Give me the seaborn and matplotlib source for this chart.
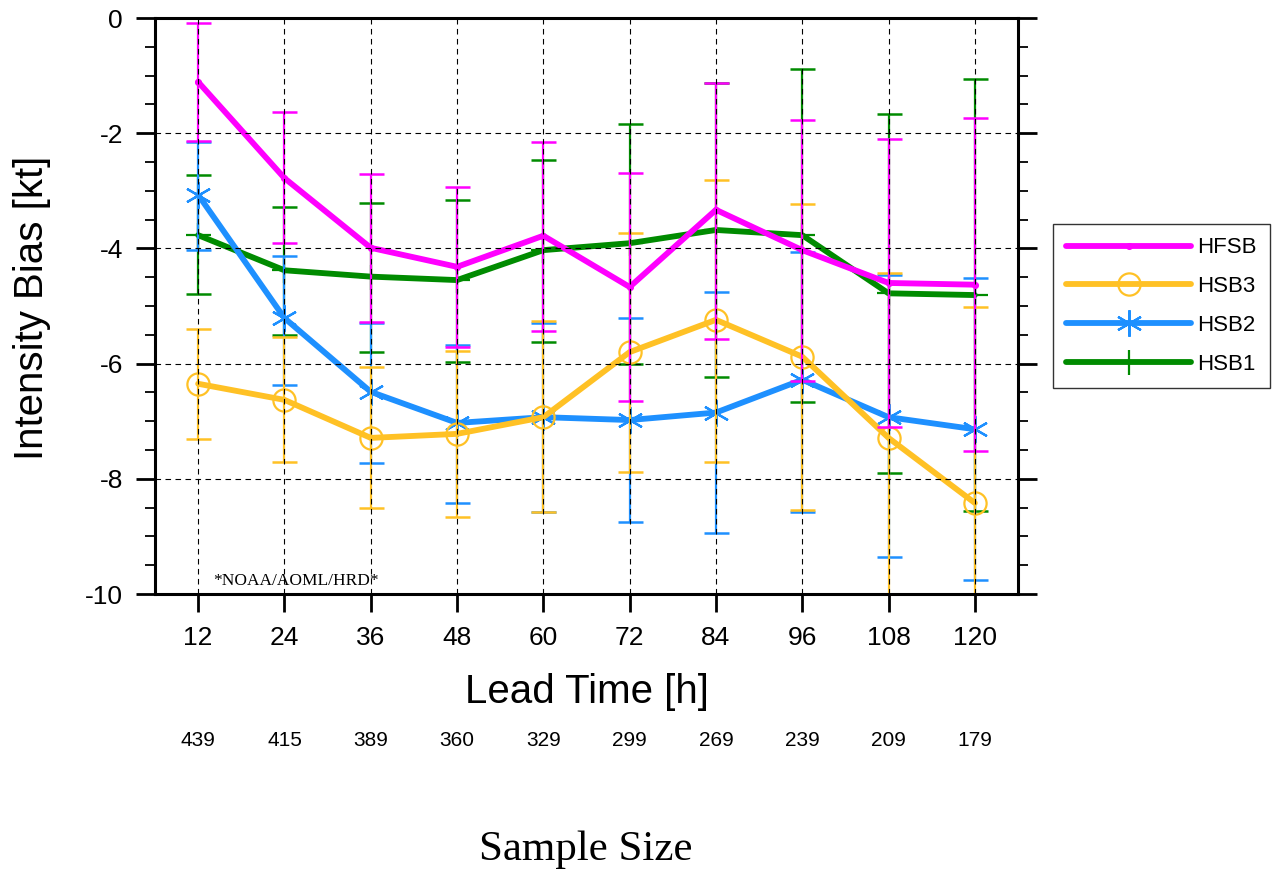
import seaborn as sns
import matplotlib.pyplot as plt
import matplotlib.transforms as mtransforms
from matplotlib.lines import Line2D
from matplotlib.ticker import MultipleLocator

# values
lead_time = [12, 24, 36, 48, 60, 72, 84, 96, 108, 120]
sample_size = [439, 415, 389, 360, 329, 299, 269, 239, 209, 179]

hfsb_mean = [-1.11, -2.78, -3.99, -4.32, -3.78, -4.67, -3.33, -4.03, -4.60, -4.63]
hfsb_hi = [-0.08, -1.64, -2.71, -2.94, -2.15, -2.69, -1.12, -1.77, -2.10, -1.74]
hfsb_lo = [-2.14, -3.91, -5.28, -5.71, -5.43, -6.65, -5.57, -6.31, -7.10, -7.52]

hsb3_mean = [-6.35, -6.63, -7.29, -7.22, -6.93, -5.80, -5.24, -5.88, -7.29, -8.42]
hsb3_hi = [-5.40, -5.53, -6.06, -5.78, -5.26, -3.74, -2.81, -3.23, -4.43, -5.01]
hsb3_lo = [-7.31, -7.70, -8.50, -8.66, -8.58, -7.88, -7.71, -8.54, -10.2, -10.4]

hsb2_mean = [-3.07, -5.21, -6.49, -7.03, -6.93, -6.98, -6.85, -6.28, -6.93, -7.14]
hsb2_hi = [-2.15, -4.13, -5.30, -5.68, -5.30, -5.20, -4.75, -4.07, -4.46, -4.51]
hsb2_lo = [-4.03, -6.37, -7.72, -8.42, -8.58, -8.75, -8.94, -8.58, -9.35, -9.76]

hsb1_mean = [-3.77, -4.38, -4.49, -4.55, -4.03, -3.91, -3.68, -3.77, -4.78, -4.81]
hsb1_hi = [-2.73, -3.28, -3.21, -3.16, -2.47, -1.84, -1.12, -0.89, -1.67, -1.06]
hsb1_lo = [-4.79, -5.50, -5.80, -5.97, -5.62, -6.00, -6.23, -6.67, -7.90, -8.56]

names = ['HFSB', 'HSB3', 'HSB2', 'HSB1']
colors = ['#FF00FF', '#FFC125', '#1E90FF', '#008B00']
markers = ['.', 'o', (6, 2, 0), '+']
msizes = [7, 16, 19, 18]
means = [hfsb_mean, hsb3_mean, hsb2_mean, hsb1_mean]
highs = [hfsb_hi, hsb3_hi, hsb2_hi, hsb1_hi]
lows = [hfsb_lo, hsb3_lo, hsb2_lo, hsb1_lo]

sns.set_style("ticks")
plt.rcParams['font.family'] = ['Liberation Sans', 'DejaVu Sans']
plt.rcParams['text.color'] = 'black'
plt.rcParams['xtick.color'] = 'black'
plt.rcParams['ytick.color'] = 'black'

W, H = 1281, 876
fig = plt.figure(figsize=(W / 100, H / 100), dpi=100)
ax = fig.add_axes([155 / W, 1 - 594 / H, (1018 - 155) / W, (594 - 18) / H])

# draw back to front: HSB1, HSB2, HSB3, HFSB
for i in [3, 2, 1, 0]:
    m = means[i]
    yerr = [[m[k] - lows[i][k] for k in range(len(m))],
            [highs[i][k] - m[k] for k in range(len(m))]]
    sns.lineplot(x=lead_time, y=m, ax=ax, color=colors[i], lw=4.2,
                 marker=markers[i], ms=msizes[i], mew=1.6,
                 mfc='none' if i == 1 else colors[i], mec=colors[i],
                 sort=False, legend=False, zorder=2 + (3 - i) * 0.1)
    ax.errorbar(lead_time, m, yerr=yerr, fmt='none', ecolor=colors[i],
                elinewidth=1.6, capsize=9, capthick=1.8, zorder=2.05 + (3 - i) * 0.1)

ax.set_xlim(6, 126)
ax.set_ylim(-10, 0)
ax.set_xticks(lead_time)
ax.set_xticklabels([str(t) for t in lead_time])
ax.yaxis.set_major_locator(MultipleLocator(2))
ax.yaxis.set_minor_locator(MultipleLocator(0.5))
ax.set_yticklabels([str(int(v)) for v in ax.get_yticks()])

ax.set_axisbelow(False)
ax.grid(True, which='major', color='black', linestyle=(0, (5, 4)), linewidth=0.8)

for s in ax.spines.values():
    s.set_linewidth(2.2)
    s.set_color('black')
ax.tick_params(axis='x', which='major', direction='out', length=13, width=2,
               labelsize=19, pad=10, top=False)
ax.tick_params(axis='y', which='major', direction='out', length=14, width=2,
               labelsize=19, pad=9, left=True, right=True)
ax.tick_params(axis='y', which='minor', direction='out', length=7, width=1.3,
               left=True, right=True)
ax.set_xlabel('')
ax.set_ylabel('')

fig.text(32 / W, 1 - 308 / H, 'Intensity Bias [kt]', rotation=90,
         ha='center', va='center', fontsize=29)
fig.text(587 / W, 1 - 692 / H, 'Lead Time [h]', ha='center', va='center', fontsize=29)

# sample sizes under each lead time
trans = mtransforms.blended_transform_factory(ax.transData, fig.transFigure)
for t, n in zip(lead_time, sample_size):
    ax.text(t, 1 - 740 / H, str(n), transform=trans,
            ha='center', va='center', fontsize=15)

fig.text(586 / W, 1 - 850 / H, 'Sample Size', ha='center', va='center',
         fontsize=31, family='Liberation Serif')
ax.text(213 / W, 1 - 581 / H, '*NOAA/AOML/HRD*', transform=fig.transFigure,
        ha='left', va='center', fontsize=12.5, family='Liberation Serif')

handles = []
for i in range(4):
    handles.append(Line2D([], [], color=colors[i], lw=4.2, marker=markers[i],
                          ms=msizes[i], mew=1.6,
                          mfc='none' if i == 1 else colors[i], mec=colors[i]))
leg = fig.legend(handles, names, loc='center left', bbox_to_anchor=(1053 / W, 1 - 306 / H),
                 fontsize=16, handlelength=5.6, handletextpad=0.3, labelspacing=0.8,
                 frameon=True, fancybox=False, edgecolor='black', numpoints=1,
                 borderpad=0.6, borderaxespad=0)
leg.get_frame().set_linewidth(1)

plt.savefig('out.png', dpi=100)
